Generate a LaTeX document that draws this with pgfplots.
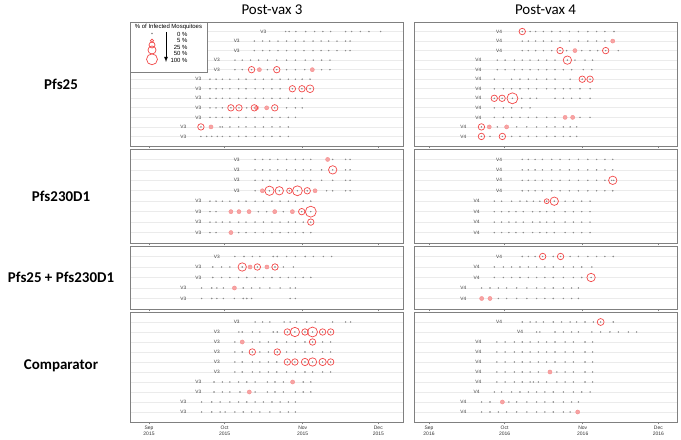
\documentclass[border=0pt]{standalone}
\usepackage{fontspec}
\setmainfont{Liberation Sans}
\newfontfamily\calibri{Carlito}
\usepackage{pgfplots}
\pgfplotsset{compat=1.18}

\definecolor{framec}{HTML}{808080}
\definecolor{gridc}{HTML}{EBEBEB}
\definecolor{ringred}{HTML}{F24848}
\definecolor{spotred}{HTML}{F7A3A3}
\definecolor{dotc}{HTML}{8C8C8C}

\pgfplotsset{
  panel/.style={scale only axis, y dir=reverse, ymin=0,
    axis line style={framec, line width=0.8bp},
    xtick={0,30,61,91}, xticklabels={}, xtick pos=bottom, tick align=outside,
    major tick length=2.5bp, xtick style={framec, line width=0.6bp},
    ytick style={draw=none}, yticklabels={},
    ymajorgrids, major grid style={gridc, line width=0.7bp}},
  lcol/.style={xmin=-7.54, xmax=100.8, width=273bp},
  rcol/.style={xmin=-5.95, xmax=98.4, width=263bp},
  sdot/.style={only marks, mark=*, mark size=0.5bp, color=dotc},
  sspot/.style={only marks, mark=*, mark size=2.1bp,
    mark options={draw=spotred!70!ringred, fill=spotred, line width=0.3bp}},
  sring/.style={scatter, only marks, mark=o, point meta=\thisrow{p},
    scatter/use mapped color={draw=ringred, fill=ringred},
    visualization depends on={0.5*sqrt(\thisrow{p})+0.5 \as \rad},
    scatter/@pre marker code/.append style={/tikz/mark size=\rad},
    mark options={line width=0.7bp}},
  slab/.style={only marks, mark=text, text mark={#1}, text mark as node=true,
    color=black!75, text mark style={font=\fontsize{4.8}{5}\selectfont, inner sep=0pt}},
  datefont/.style={xticklabel style={align=center, font=\fontsize{5}{6}\selectfont, text=black!80, inner sep=1.5bp}},
}

\begin{document}
\begin{tikzpicture}[x=1bp, y=1bp]
\path[use as bounding box] (0,0) rectangle (681,440);

% ---------------- Pfs25, V3
\begin{axis}[panel, lcol, height=124bp, ymax=13, ytick={1,...,12}, at={(130bp,294bp)}, anchor=south west]
\addplot[sdot] table[row sep=\\] {x y\\
54.2 1\\ 55.6 1\\ 58.3 1\\ 62.2 1\\ 65.7 1\\ 69.0 1\\ 72.1 1\\ 78.0 1\\ 80.4 1\\ 83.9 1\\ 87.3 1\\ 91.9 1\\
41.8 2\\ 45.1 2\\ 47.9 2\\ 51.2 2\\ 54.6 2\\ 58.1 2\\ 61.5 2\\ 65.1 2\\ 68.3 2\\ 71.3 2\\ 74.6 2\\ 78.0 2\\ 79.8 2\\
41.8 3\\ 45.1 3\\ 47.9 3\\ 51.2 3\\ 54.6 3\\ 58.1 3\\ 61.5 3\\ 65.1 3\\ 68.3 3\\ 71.3 3\\ 74.6 3\\ 78.0 3\\ 79.8 3\\
34.1 4\\ 37.0 4\\ 40.3 4\\ 43.5 4\\ 47.0 4\\ 50.7 4\\ 54.6 4\\ 58.1 4\\ 62.0 4\\ 65.2 4\\ 68.5 4\\ 71.8 4\\
34.1 5\\ 37.0 5\\ 40.7 5\\ 43.8 5\\ 47.0 5\\ 50.7 5\\ 54.6 5\\ 58.1 5\\ 61.8 5\\ 64.8 5\\ 68.5 5\\ 71.8 5\\
24.2 6\\ 26.6 6\\ 29.1 6\\ 32.1 6\\ 35.6 6\\ 38.5 6\\ 42.1 6\\ 45.4 6\\ 48.8 6\\ 52.0 6\\ 55.3 6\\ 58.1 6\\ 60.8 6\\ 63.9 6\\
24.2 7\\ 26.6 7\\ 29.1 7\\ 32.1 7\\ 35.6 7\\ 38.5 7\\ 42.1 7\\ 45.4 7\\ 48.8 7\\ 52.0 7\\ 56.9 7\\ 60.7 7\\ 63.9 7\\
24.2 8\\ 26.6 8\\ 29.1 8\\ 32.1 8\\ 35.6 8\\ 38.5 8\\ 42.1 8\\ 45.4 8\\ 48.8 8\\ 52.0 8\\ 55.3 8\\ 58.1 8\\ 60.8 8\\
24.2 9\\ 26.6 9\\ 29.1 9\\ 32.5 9\\ 35.7 9\\ 38.8 9\\ 41.8 9\\ 42.7 9\\ 46.7 9\\ 49.9 9\\ 54.6 9\\ 58.1 9\\ 60.8 9\\
24.2 10\\ 26.6 10\\ 29.1 10\\ 32.1 10\\ 35.6 10\\ 38.5 10\\ 42.1 10\\ 45.4 10\\ 48.8 10\\ 52.0 10\\ 55.3 10\\ 58.1 10\\
20.6 11\\ 24.6 11\\ 28.2 11\\ 29.1 11\\ 32.1 11\\ 35.6 11\\ 38.5 11\\ 42.1 11\\ 45.4 11\\ 48.8 11\\ 52.0 11\\ 55.3 11\\
20.6 12\\ 22.9 12\\ 24.9 12\\ 27.1 12\\ 29.1 12\\ 32.1 12\\ 35.6 12\\ 38.5 12\\ 42.1 12\\ 45.4 12\\ 48.8 12\\ 52.0 12\\ 55.3 12\\
};
\addplot[sspot] table[row sep=\\] {x y\\ 43.8 5\\ 64.8 5\\ 42.7 9\\ 46.7 9\\ 24.6 11\\};
\addplot[sring] table[row sep=\\] {x y p\\ 40.7 5 30\\ 50.7 5 30\\ 56.9 7 30\\ 60.7 7 30\\ 63.9 7 45\\
32.5 9 30\\ 35.7 9 30\\ 41.8 9 30\\ 49.9 9 30\\ 20.6 11 30\\};
\addplot[slab=V3] table[row sep=\\] {x y\\ 45.4 1\\ 34.8 2\\ 34.8 3\\ 26.9 4\\ 26.9 5\\ 19.6 6\\ 19.6 7\\ 19.6 8\\ 19.6 9\\ 19.6 10\\ 13.6 11\\ 13.6 12\\};
\end{axis}

% ---------------- Pfs25, V4
\begin{axis}[panel, rcol, height=124bp, ymax=13, ytick={1,...,12}, at={(414bp,294bp)}, anchor=south west]
\addplot[sdot] table[row sep=\\] {x y\\
37.0 1\\ 40.1 1\\ 42.3 1\\ 45.4 1\\ 48.7 1\\ 52.0 1\\ 55.7 1\\ 59.3 1\\ 63.0 1\\ 66.5 1\\ 69.8 1\\ 73.4 1\\
37.0 2\\ 39.4 2\\ 42.3 2\\ 45.4 2\\ 48.7 2\\ 52.0 2\\ 55.7 2\\ 59.3 2\\ 63.0 2\\ 66.5 2\\ 69.8 2\\ 72.9 2\\
37.0 3\\ 39.4 3\\ 42.3 3\\ 45.4 3\\ 48.7 3\\ 52.0 3\\ 54.6 3\\ 57.9 3\\ 60.6 3\\ 63.9 3\\ 66.9 3\\ 70.1 3\\ 75.1 3\\
27.1 4\\ 30.2 4\\ 33.9 4\\ 37.0 4\\ 40.1 4\\ 43.4 4\\ 46.7 4\\ 50.0 4\\ 54.9 4\\ 57.9 4\\ 61.9 4\\ 64.9 4\\
27.1 5\\ 30.2 5\\ 33.9 5\\ 37.0 5\\ 40.1 5\\ 43.4 5\\ 46.7 5\\ 50.0 5\\ 53.3 5\\ 56.6 5\\ 61.2 5\\ 64.6 5\\
25.9 6\\ 32.8 6\\ 36.1 6\\ 39.4 6\\ 42.7 6\\ 46.7 6\\ 50.0 6\\ 56.0 6\\ 60.8 6\\ 63.9 6\\
25.9 7\\ 29.5 7\\ 32.8 7\\ 36.1 7\\ 39.4 7\\ 42.7 7\\ 46.7 7\\ 50.0 7\\ 53.3 7\\ 56.0 7\\ 59.9 7\\ 63.9 7\\
25.9 8\\ 29.0 8\\ 33.1 8\\ 36.8 8\\ 40.1 8\\ 42.7 8\\ 50.0 8\\ 53.3 8\\ 56.6 8\\ 59.9 8\\ 63.9 8\\
25.9 9\\ 29.5 9\\ 32.8 9\\ 36.8 9\\ 40.1 9\\
25.9 10\\ 29.5 10\\ 32.8 10\\ 36.1 10\\ 39.4 10\\ 42.7 10\\ 46.7 10\\ 50.0 10\\ 54.0 10\\ 57.0 10\\ 59.9 10\\ 63.9 10\\
20.8 11\\ 23.9 11\\ 27.1 11\\ 30.8 11\\ 34.8 11\\ 38.8 11\\ 42.7 11\\ 46.7 11\\ 50.0 11\\ 53.3 11\\ 56.0 11\\ 58.6 11\\
20.8 12\\ 24.2 12\\ 29.1 12\\ 32.8 12\\ 36.1 12\\ 39.4 12\\ 42.7 12\\ 46.7 12\\ 50.0 12\\ 53.3 12\\ 56.0 12\\ 58.6 12\\
};
\addplot[sspot] table[row sep=\\] {x y\\ 72.9 2\\ 57.9 3\\ 54.0 10\\ 57.0 10\\ 23.9 11\\ 30.8 11\\};
\addplot[sring] table[row sep=\\] {x y p\\ 37.0 1 30\\ 52.0 3 30\\ 70.1 3 30\\ 54.9 4 55\\ 60.8 6 30\\ 63.9 6 30\\
25.9 8 30\\ 29.0 8 30\\ 33.1 8 100\\ 20.8 11 30\\ 20.8 12 30\\ 29.1 12 30\\};
\addplot[slab=V4] table[row sep=\\] {x y\\ 27.8 1\\ 27.8 2\\ 27.8 3\\ 19.6 4\\ 19.6 5\\ 19.6 6\\ 19.6 7\\ 19.6 8\\ 19.6 9\\ 19.6 10\\ 13.6 11\\ 13.6 12\\};
\end{axis}

% ---------------- Pfs230D1, V3
\begin{axis}[panel, lcol, height=94bp, ymax=9, ytick={1,...,8}, at={(130bp,197bp)}, anchor=south west]
\addplot[sdot] table[row sep=\\] {x y\\
42.1 1\\ 45.1 1\\ 48.0 1\\ 51.1 1\\ 54.6 1\\ 58.1 1\\ 61.2 1\\ 64.2 1\\ 70.9 1\\ 72.9 1\\ 78.0 1\\ 79.8 1\\
42.1 2\\ 45.1 2\\ 48.0 2\\ 51.1 2\\ 54.6 2\\ 58.1 2\\ 61.2 2\\ 64.2 2\\ 68.5 2\\ 72.9 2\\ 78.0 2\\ 79.8 2\\
42.1 3\\ 45.1 3\\ 48.0 3\\ 51.1 3\\ 54.6 3\\ 58.1 3\\ 61.2 3\\ 64.2 3\\ 68.5 3\\ 72.9 3\\ 78.0 3\\ 79.8 3\\
42.1 4\\ 45.0 4\\ 47.8 4\\ 51.7 4\\ 55.7 4\\ 58.9 4\\ 62.8 4\\ 65.9 4\\ 70.5 4\\ 72.9 4\\ 78.0 4\\ 79.8 4\\
24.2 5\\ 26.6 5\\ 29.1 5\\ 32.1 5\\ 35.6 5\\ 38.5 5\\ 42.1 5\\ 45.4 5\\ 48.8 5\\ 52.0 5\\ 55.3 5\\ 58.1 5\\ 61.2 5\\ 64.2 5\\
24.2 6\\ 26.6 6\\ 32.5 6\\ 35.7 6\\ 39.7 6\\ 43.4 6\\ 46.7 6\\ 49.9 6\\ 53.3 6\\ 56.9 6\\ 60.6 6\\ 64.2 6\\
24.2 7\\ 26.6 7\\ 29.1 7\\ 32.1 7\\ 35.6 7\\ 38.5 7\\ 42.1 7\\ 45.4 7\\ 48.8 7\\ 52.0 7\\ 55.3 7\\ 58.1 7\\ 61.2 7\\ 64.2 7\\
24.2 8\\ 26.6 8\\ 32.5 8\\ 35.6 8\\ 38.5 8\\ 42.1 8\\ 45.4 8\\ 48.8 8\\ 52.0 8\\ 55.3 8\\ 58.1 8\\ 61.2 8\\ 64.2 8\\
};
\addplot[sspot] table[row sep=\\] {x y\\ 70.9 1\\ 45.0 4\\ 65.9 4\\ 32.5 6\\ 35.7 6\\ 39.7 6\\ 49.9 6\\ 56.9 6\\ 32.5 8\\};
\addplot[sring] table[row sep=\\] {x y p\\ 72.9 2 55\\ 47.8 4 70\\ 51.7 4 55\\ 55.7 4 20\\ 58.9 4 80\\ 62.8 4 30\\
60.6 6 30\\ 64.2 6 100\\ 64.2 7 30\\};
\addplot[slab=V3] table[row sep=\\] {x y\\ 34.8 1\\ 34.8 2\\ 34.8 3\\ 34.8 4\\ 19.6 5\\ 19.6 6\\ 19.6 7\\ 19.6 8\\};
\end{axis}

% ---------------- Pfs230D1, V4
\begin{axis}[panel, rcol, height=94bp, ymax=9, ytick={1,...,8}, at={(414bp,197bp)}, anchor=south west]
\addplot[sdot] table[row sep=\\] {x y\\
37.0 1\\ 39.4 1\\ 42.1 1\\ 45.0 1\\ 48.7 1\\ 52.0 1\\ 55.7 1\\ 59.3 1\\ 63.0 1\\ 66.5 1\\ 69.8 1\\ 72.9 1\\
37.0 2\\ 39.4 2\\ 42.1 2\\ 45.0 2\\ 48.7 2\\ 52.0 2\\ 55.7 2\\ 59.3 2\\ 63.0 2\\ 66.5 2\\ 69.8 2\\ 72.9 2\\
37.0 3\\ 39.4 3\\ 42.1 3\\ 45.0 3\\ 48.7 3\\ 52.0 3\\ 55.7 3\\ 59.3 3\\ 63.0 3\\ 66.5 3\\ 69.8 3\\ 72.5 3\\ 73.3 3\\
37.0 4\\ 39.4 4\\ 42.1 4\\ 45.0 4\\ 48.7 4\\ 52.0 4\\ 55.7 4\\ 59.3 4\\ 63.0 4\\ 66.5 4\\ 69.8 4\\ 72.9 4\\
25.9 5\\ 28.8 5\\ 32.8 5\\ 36.1 5\\ 38.8 5\\ 41.4 5\\ 44.0 5\\ 46.7 5\\ 49.7 5\\ 54.0 5\\ 57.3 5\\ 60.6 5\\ 63.9 5\\
25.9 6\\ 28.8 6\\ 31.7 6\\ 34.5 6\\ 37.4 6\\ 41.1 6\\ 44.0 6\\ 46.7 6\\ 49.7 6\\ 54.0 6\\ 57.3 6\\ 60.6 6\\ 63.9 6\\
25.9 7\\ 28.8 7\\ 31.7 7\\ 34.5 7\\ 37.4 7\\ 41.1 7\\ 44.0 7\\ 46.7 7\\ 49.7 7\\ 54.0 7\\ 57.3 7\\ 60.6 7\\ 63.9 7\\
25.9 8\\ 28.8 8\\ 31.7 8\\ 34.5 8\\ 37.4 8\\ 41.1 8\\ 44.0 8\\ 46.7 8\\ 49.7 8\\ 54.0 8\\ 57.3 8\\ 60.6 8\\ 63.9 8\\
};
\addplot[sring] table[row sep=\\] {x y p\\ 72.9 3 55\\ 46.7 5 15\\ 49.7 5 55\\};
\addplot[slab=V4] table[row sep=\\] {x y\\ 27.8 1\\ 27.8 2\\ 27.8 3\\ 27.8 4\\ 18.9 5\\ 18.9 6\\ 18.9 7\\ 18.9 8\\};
\end{axis}

% ---------------- Pfs25 + Pfs230D1, V3
\begin{axis}[panel, lcol, height=63bp, ymax=6, ytick={1,...,5}, at={(130bp,131bp)}, anchor=south west]
\addplot[sdot] table[row sep=\\] {x y\\
34.1 1\\ 37.7 1\\ 41.0 1\\ 44.0 1\\ 49.3 1\\ 50.9 1\\ 54.6 1\\ 58.1 1\\ 62.0 1\\ 65.2 1\\ 69.2 1\\ 72.5 1\\
25.3 2\\ 28.8 2\\ 32.1 2\\ 37.0 2\\ 40.1 2\\ 43.0 2\\ 46.8 2\\ 50.0 2\\ 53.3 2\\ 57.3 2\\
25.3 3\\ 28.8 3\\ 32.1 3\\ 35.6 3\\ 38.8 3\\ 42.1 3\\ 45.4 3\\ 48.8 3\\ 52.0 3\\ 55.3 3\\ 58.1 3\\ 61.2 3\\ 64.2 3\\
20.9 4\\ 24.9 4\\ 26.9 4\\ 29.5 4\\ 33.9 4\\ 37.4 4\\ 40.7 4\\ 44.0 4\\ 48.0 4\\ 52.0 4\\ 56.0 4\\ 58.1 4\\
20.9 5\\ 24.9 5\\ 26.9 5\\ 29.5 5\\ 33.9 5\\ 37.4 5\\ 38.8 5\\ 40.7 5\\ 56.0 5\\ 58.1 5\\
};
\addplot[sspot] table[row sep=\\] {x y\\ 40.1 2\\ 46.8 2\\ 33.9 4\\};
\addplot[sring] table[row sep=\\] {x y p\\ 37.0 2 55\\ 43.0 2 30\\ 50.0 2 30\\};
\addplot[slab=V3] table[row sep=\\] {x y\\ 26.9 1\\ 19.6 2\\ 19.6 3\\ 13.6 4\\ 13.6 5\\};
\end{axis}

% ---------------- Pfs25 + Pfs230D1, V4
\begin{axis}[panel, rcol, height=63bp, ymax=6, ytick={1,...,5}, at={(414bp,131bp)}, anchor=south west]
\addplot[sdot] table[row sep=\\] {x y\\
37.0 1\\ 39.4 1\\ 42.1 1\\ 45.1 1\\ 49.3 1\\ 52.2 1\\ 56.0 1\\ 59.3 1\\ 63.0 1\\ 66.5 1\\ 69.8 1\\ 73.1 1\\
25.9 2\\ 29.5 2\\ 32.8 2\\ 36.1 2\\ 39.4 2\\ 42.7 2\\ 46.0 2\\ 49.3 2\\ 53.3 2\\ 57.3 2\\ 60.6 2\\ 64.6 2\\
25.9 3\\ 29.5 3\\ 32.8 3\\ 36.1 3\\ 39.4 3\\ 42.7 3\\ 46.0 3\\ 49.3 3\\ 53.3 3\\ 57.3 3\\ 60.6 3\\ 64.3 3\\
20.9 4\\ 24.2 4\\ 27.5 4\\ 30.8 4\\ 34.8 4\\ 38.8 4\\ 42.7 4\\ 46.0 4\\ 49.3 4\\ 53.3 4\\ 56.6 4\\ 59.3 4\\
20.9 5\\ 24.2 5\\ 27.5 5\\ 30.8 5\\ 34.8 5\\ 38.8 5\\ 42.7 5\\ 46.0 5\\ 49.3 5\\ 53.3 5\\ 56.6 5\\ 59.3 5\\
};
\addplot[sspot] table[row sep=\\] {x y\\ 20.9 5\\ 24.2 5\\};
\addplot[sring] table[row sep=\\] {x y p\\ 45.1 1 30\\ 52.2 1 30\\ 64.3 3 55\\};
\addplot[slab=V4] table[row sep=\\] {x y\\ 27.8 1\\ 18.9 2\\ 18.9 3\\ 13.6 4\\ 13.6 5\\};
\end{axis}

% ---------------- Comparator, V3
\begin{axis}[panel, lcol, datefont, xticklabels={{Sep\\2015},{Oct\\2015},{Nov\\2015},{Dec\\2015}},
  height=110bp, ymax=11, ytick={1,...,10}, at={(130bp,18bp)}, anchor=south west]
\addplot[sdot] table[row sep=\\] {x y\\
42.1 1\\ 45.1 1\\ 48.0 1\\ 53.6 1\\ 56.0 1\\ 58.6 1\\ 62.6 1\\ 65.9 1\\ 72.9 1\\ 78.0 1\\ 80.0 1\\
35.7 2\\ 37.0 2\\ 41.0 2\\ 44.0 2\\ 49.3 2\\ 50.9 2\\ 54.9 2\\ 57.9 2\\ 61.9 2\\ 64.9 2\\ 68.9 2\\ 72.1 2\\
34.1 3\\ 37.0 3\\ 41.0 3\\ 44.0 3\\ 47.4 3\\ 50.7 3\\ 54.6 3\\ 58.1 3\\ 61.9 3\\ 64.9 3\\ 68.9 3\\ 72.1 3\\
34.1 4\\ 37.0 4\\ 41.0 4\\ 44.0 4\\ 47.4 4\\ 50.9 4\\ 54.6 4\\ 58.1 4\\ 61.9 4\\ 64.9 4\\ 68.9 4\\ 72.1 4\\
34.1 5\\ 37.0 5\\ 41.0 5\\ 44.0 5\\ 47.4 5\\ 50.7 5\\ 54.9 5\\ 57.9 5\\ 61.9 5\\ 64.9 5\\ 68.9 5\\ 72.1 5\\
34.1 6\\ 37.0 6\\ 41.0 6\\ 44.0 6\\ 47.4 6\\ 50.7 6\\ 54.6 6\\ 58.1 6\\ 61.9 6\\ 64.9 6\\ 68.9 6\\ 72.1 6\\
25.8 7\\ 29.1 7\\ 32.1 7\\ 35.6 7\\ 38.8 7\\ 42.1 7\\ 47.0 7\\ 50.0 7\\ 53.3 7\\ 57.0 7\\ 61.2 7\\ 64.2 7\\
25.8 8\\ 29.1 8\\ 32.1 8\\ 36.1 8\\ 39.8 8\\ 42.1 8\\ 47.0 8\\ 50.0 8\\ 53.3 8\\ 58.1 8\\ 61.2 8\\ 64.2 8\\
20.9 9\\ 24.9 9\\ 28.2 9\\ 32.1 9\\ 35.6 9\\ 38.8 9\\ 42.1 9\\ 45.4 9\\ 48.8 9\\ 52.0 9\\ 55.3 9\\ 58.1 9\\
20.9 10\\ 24.9 10\\ 28.2 10\\ 30.2 10\\ 34.1 10\\ 37.4 10\\ 40.7 10\\ 44.0 10\\ 48.0 10\\ 52.0 10\\ 55.3 10\\ 58.1 10\\
};
\addplot[sspot] table[row sep=\\] {x y\\ 37.0 3\\ 57.0 7\\ 39.8 8\\};
\addplot[sring] table[row sep=\\] {x y p\\ 54.9 2 30\\ 57.9 2 70\\ 61.9 2 30\\ 64.9 2 80\\ 68.9 2 30\\ 72.1 2 30\\
64.9 3 30\\ 41.0 4 30\\ 50.9 4 30\\ 54.9 5 30\\ 57.9 5 30\\ 61.9 5 40\\ 64.9 5 55\\ 68.9 5 40\\ 72.1 5 30\\};
\addplot[slab=V3] table[row sep=\\] {x y\\ 34.8 1\\ 26.9 2\\ 26.9 3\\ 26.9 4\\ 26.9 5\\ 26.9 6\\ 19.6 7\\ 19.6 8\\ 13.6 9\\ 13.6 10\\};
\end{axis}

% ---------------- Comparator, V4
\begin{axis}[panel, rcol, datefont, xticklabels={{Sep\\2016},{Oct\\2016},{Nov\\2016},{Dec\\2016}},
  height=110bp, ymax=11, ytick={1,...,10}, at={(414bp,18bp)}, anchor=south west]
\addplot[sdot] table[row sep=\\] {x y\\
37.0 1\\ 40.1 1\\ 42.5 1\\ 45.4 1\\ 49.3 1\\ 52.6 1\\ 56.0 1\\ 58.6 1\\ 61.9 1\\ 65.2 1\\ 68.1 1\\ 73.1 1\\
42.7 2\\ 44.0 2\\ 50.0 2\\ 53.3 2\\ 56.6 2\\ 59.3 2\\ 64.6 2\\ 68.1 2\\ 71.8 2\\ 75.1 2\\ 79.1 2\\ 82.4 2\\
26.9 3\\ 30.2 3\\ 33.9 3\\ 37.0 3\\ 40.1 3\\ 43.4 3\\ 46.7 3\\ 50.0 3\\ 54.0 3\\ 57.3 3\\ 61.9 3\\ 64.9 3\\
26.9 4\\ 30.2 4\\ 33.9 4\\ 37.0 4\\ 40.1 4\\ 43.4 4\\ 46.7 4\\ 50.0 4\\ 54.0 4\\ 57.3 4\\ 61.9 4\\ 64.9 4\\
26.9 5\\ 30.2 5\\ 33.9 5\\ 37.0 5\\ 40.1 5\\ 43.4 5\\ 46.7 5\\ 50.0 5\\ 54.0 5\\ 57.3 5\\ 61.9 5\\ 64.9 5\\
26.9 6\\ 30.2 6\\ 33.9 6\\ 37.0 6\\ 40.1 6\\ 43.4 6\\ 48.0 6\\ 50.7 6\\ 54.0 6\\ 57.3 6\\ 61.9 6\\ 64.9 6\\
26.9 7\\ 30.2 7\\ 33.9 7\\ 37.0 7\\ 40.1 7\\ 41.4 7\\ 43.4 7\\ 46.7 7\\ 50.7 7\\ 54.0 7\\ 57.3 7\\ 61.9 7\\ 64.9 7\\
25.9 8\\ 28.8 8\\ 32.8 8\\ 36.1 8\\ 39.4 8\\ 42.7 8\\ 46.0 8\\ 49.3 8\\ 53.3 8\\ 57.3 8\\ 60.6 8\\ 63.9 8\\
20.9 9\\ 24.2 9\\ 29.1 9\\ 31.7 9\\ 34.8 9\\ 38.8 9\\ 42.7 9\\ 46.0 9\\ 49.3 9\\ 53.3 9\\ 56.6 9\\ 59.3 9\\
20.9 10\\ 24.2 10\\ 27.5 10\\ 30.8 10\\ 34.8 10\\ 38.8 10\\ 42.7 10\\ 46.0 10\\ 49.3 10\\ 53.3 10\\ 56.0 10\\ 59.0 10\\
};
\addplot[sspot] table[row sep=\\] {x y\\ 48.0 6\\ 29.1 9\\ 59.0 10\\};
\addplot[sring] table[row sep=\\] {x y p\\ 68.1 1 35\\};
\addplot[slab=V4] table[row sep=\\] {x y\\ 27.8 1\\ 36.1 2\\ 19.6 3\\ 19.6 4\\ 19.6 5\\ 19.6 6\\ 19.6 7\\ 18.9 8\\ 13.6 9\\ 13.6 10\\};
\end{axis}

% ---------------- size legend
\begin{axis}[scale only axis, width=77bp, height=50bp, at={(130bp,368bp)}, anchor=south west,
  xmin=0, xmax=77, ymin=0, ymax=50, y dir=reverse, ticks=none, clip=false,
  axis line style={framec, line width=0.8bp}, axis background/.style={fill=white}]
\addplot[sdot] table[row sep=\\] {x y\\ 22 11.5\\};
\addplot[sring] table[row sep=\\] {x y p\\ 22 18.7 5\\ 22 23 25\\ 22 28 50\\ 22 37.3 100\\};
\addplot[black, line width=0.8bp, -latex] coordinates {(36,10) (36,40)};
\node[font=\fontsize{6}{7}\selectfont] at (axis cs:38.5,4.5) {\% of Infected Mosquitoes};
\node[anchor=east, font=\fontsize{6}{7}\selectfont] at (axis cs:61,12) {0 \%};
\node[anchor=east, font=\fontsize{6}{7}\selectfont] at (axis cs:61,18.5) {5 \%};
\node[anchor=east, font=\fontsize{6}{7}\selectfont] at (axis cs:61,25) {25 \%};
\node[anchor=east, font=\fontsize{6}{7}\selectfont] at (axis cs:61,31.5) {50 \%};
\node[anchor=east, font=\fontsize{6}{7}\selectfont] at (axis cs:61,38) {100 \%};
\end{axis}

% ---------------- titles
\node[font=\calibri\fontsize{15}{17}\selectfont] at (272,430) {Post-vax 3};
\node[font=\calibri\fontsize{15}{17}\selectfont] at (545.5,430) {Post-vax 4};
\node[font=\calibri\bfseries\fontsize{15}{17}\selectfont] at (61,356) {Pfs25};
\node[font=\calibri\bfseries\fontsize{15}{17}\selectfont] at (61,244) {Pfs230D1};
\node[font=\calibri\bfseries\fontsize{15}{17}\selectfont] at (61,163) {Pfs25 + Pfs230D1};
\node[font=\calibri\bfseries\fontsize{15}{17}\selectfont] at (61,74) {Comparator};
\end{tikzpicture}
\end{document}
